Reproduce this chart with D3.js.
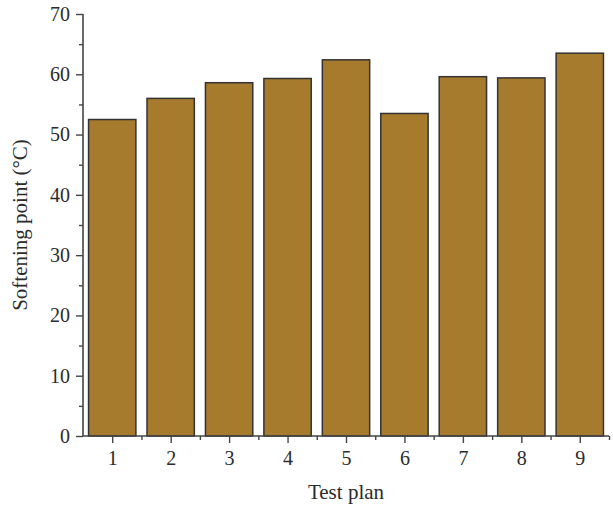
<!DOCTYPE html>
<html>
<head>
<meta charset="utf-8">
<script src="https://cdn.jsdelivr.net/npm/d3@7"></script>
<style>
  html, body { margin: 0; padding: 0; background: #fff; }
  svg { display: block; }
  text { font-family: "Liberation Serif", "DejaVu Serif", serif; fill: #2b2b2b; }
</style>
</head>
<body>
<svg id="chart" width="613" height="511"></svg>
<script>
// Softening point of each test plan
const plans = [1, 2, 3, 4, 5, 6, 7, 8, 9];
const softening = [52.5, 56.0, 58.6, 59.3, 62.4, 53.5, 59.6, 59.4, 63.5];
const yTicks = [0, 10, 20, 30, 40, 50, 60, 70];
const yMinorTicks = [5, 15, 25, 35, 45, 55, 65];
const xMinorTicks = [1.5, 2.5, 3.5, 4.5, 5.5, 6.5, 7.5, 8.5, 9.5];

const svg = d3.select("#chart");
const plotLeft = 83, plotRight = 609, plotTop = 14, plotBottom = 436;

const x = d3.scaleLinear().domain([0.5, 9.5]).range([plotLeft, plotRight]);
const y = d3.scaleLinear().domain([0, 70]).range([plotBottom, plotTop]);
const barW = (x(2) - x(1)) * 0.81;

// bars
svg.append("g").selectAll("rect")
  .data(plans.map((p, i) => ({ p, v: softening[i] })))
  .join("rect")
  .attr("x", d => x(d.p) - barW / 2)
  .attr("y", d => y(d.v))
  .attr("width", barW)
  .attr("height", d => y(0) - y(d.v))
  .attr("fill", "#a67b2e")
  .attr("stroke", "#333")
  .attr("stroke-width", 1.5);

// y axis
const yAxis = svg.append("g").attr("transform", `translate(${plotLeft},0)`)
  .call(d3.axisLeft(y).tickValues(yTicks).tickSize(7).tickPadding(6).tickFormat(d3.format("d")));
svg.append("g").attr("transform", `translate(${plotLeft},0)`)
  .call(d3.axisLeft(y).tickValues(yMinorTicks).tickSize(4).tickFormat(""))
  .call(g => g.select(".domain").remove());

// x axis
const xAxis = svg.append("g").attr("transform", `translate(0,${plotBottom})`)
  .call(d3.axisBottom(x).tickValues(plans).tickSize(7).tickPadding(8).tickFormat(d3.format("d")));
svg.append("g").attr("transform", `translate(0,${plotBottom})`)
  .call(d3.axisBottom(x).tickValues(xMinorTicks).tickSize(4).tickFormat(""))
  .call(g => g.select(".domain").remove());

svg.selectAll(".domain").attr("stroke", "#444").attr("stroke-width", 1.6);
yAxis.select(".domain").attr("d", `M0,${plotTop}V${plotBottom}`);
xAxis.select(".domain").attr("d", `M${plotLeft},0H${plotRight}`);
svg.selectAll(".tick line").attr("stroke", "#444").attr("stroke-width", 1.4);
svg.selectAll(".tick text").attr("font-size", 20).attr("fill", "#2b2b2b")
  .style("font-family", "'Liberation Serif', serif");

// axis titles
svg.append("text")
  .attr("x", (plotLeft + plotRight) / 2).attr("y", 499)
  .attr("text-anchor", "middle").attr("font-size", 21)
  .text("Test plan");
svg.append("text")
  .attr("transform", `translate(27,${(plotTop + plotBottom) / 2}) rotate(-90)`)
  .attr("text-anchor", "middle").attr("font-size", 21)
  .text("Softening point (°C)");
</script>
</body>
</html>
